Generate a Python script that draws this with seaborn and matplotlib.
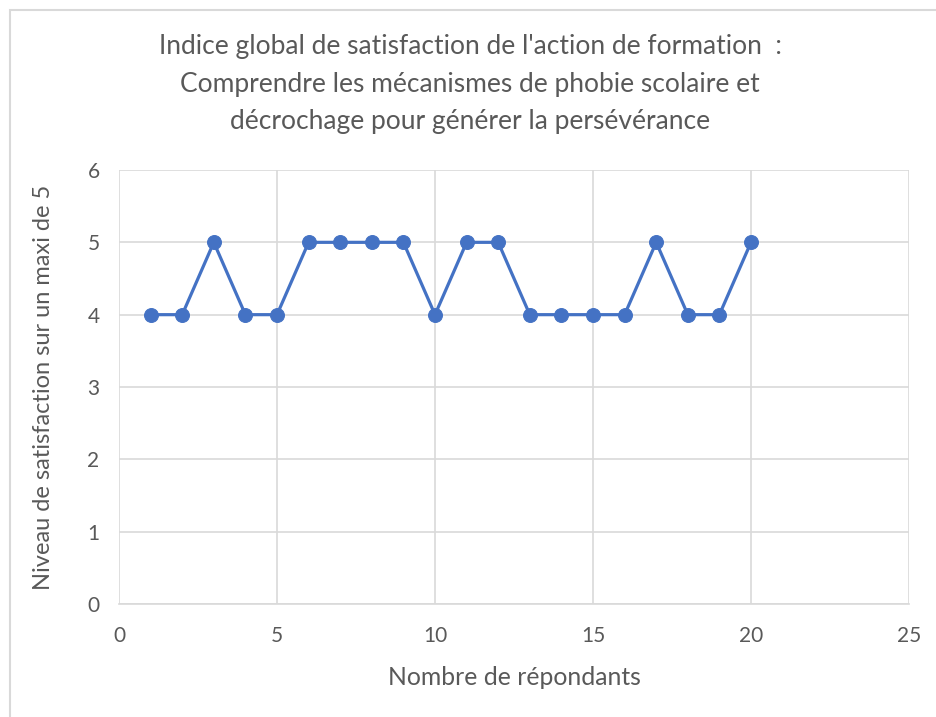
import matplotlib
matplotlib.use("Agg")
import matplotlib.pyplot as plt
import seaborn as sns
import pandas as pd
from matplotlib.patches import Rectangle

# data
respondants = list(range(1, 21))
satisfaction = [4, 4, 5, 4, 4, 5, 5, 5, 5, 4, 5, 5, 4, 4, 4, 4, 5, 4, 4, 5]
x_ticks = [0, 5, 10, 15, 20, 25]
y_ticks = [0, 1, 2, 3, 4, 5, 6]

TITLE = ("Indice global de satisfaction de l'action de formation  :\n"
         "Comprendre les mécanismes de phobie scolaire et\n"
         "décrochage pour générer la persévérance")
XLABEL = "Nombre de répondants"
YLABEL = "Niveau de satisfaction sur un maxi de 5"

BLUE = "#4472C4"
GRID = "#D9D9D9"
TEXT = "#595959"


def main():
    sns.set_style("white")
    plt.rcParams['font.family'] = ['Lato', 'DejaVu Sans']

    df = pd.DataFrame({"x": respondants, "y": satisfaction})

    fig = plt.figure(figsize=(9.36, 7.17), dpi=100)
    ax = fig.add_axes([119 / 936, 1 - 604 / 717, 790 / 936, 434 / 717])

    sns.lineplot(data=df, x="x", y="y", ax=ax, color=BLUE, linewidth=2.3,
                 marker="o", markersize=10, markeredgecolor=BLUE, zorder=3)

    ax.set_xlim(0, 25)
    ax.set_ylim(0, 6)
    ax.set_xticks(x_ticks)
    ax.set_yticks(y_ticks)
    ax.grid(True, color=GRID, linewidth=1.2)
    ax.set_axisbelow(True)
    for side in ["top", "right", "left"]:
        ax.spines[side].set_visible(False)
    ax.spines["bottom"].set_color(GRID)
    ax.spines["bottom"].set_linewidth(1.2)
    ax.tick_params(length=0, labelsize=15, labelcolor=TEXT)
    ax.tick_params(axis="x", pad=16)
    ax.tick_params(axis="y", pad=14)

    ax.set_xlabel(XLABEL, fontsize=17.8, color=TEXT, labelpad=14)
    ax.set_ylabel(YLABEL, fontsize=17, color=TEXT, labelpad=24)

    # title, last line baseline placed like the reference
    fig.text(470 / 936, 1 - 129 / 717, TITLE, ha="center", va="baseline",
             fontsize=19, color=TEXT, linespacing=1.62)

    # chart border (cut at right/bottom like the screenshot)
    fig.patches.append(Rectangle((10 / 936, -0.1), 1.0, 1.1 - 10 / 717,
                                 transform=fig.transFigure, fill=False,
                                 edgecolor=GRID, linewidth=1.5))

    fig.savefig("out.png", dpi=100, facecolor="white")


if __name__ == "__main__":
    main()
